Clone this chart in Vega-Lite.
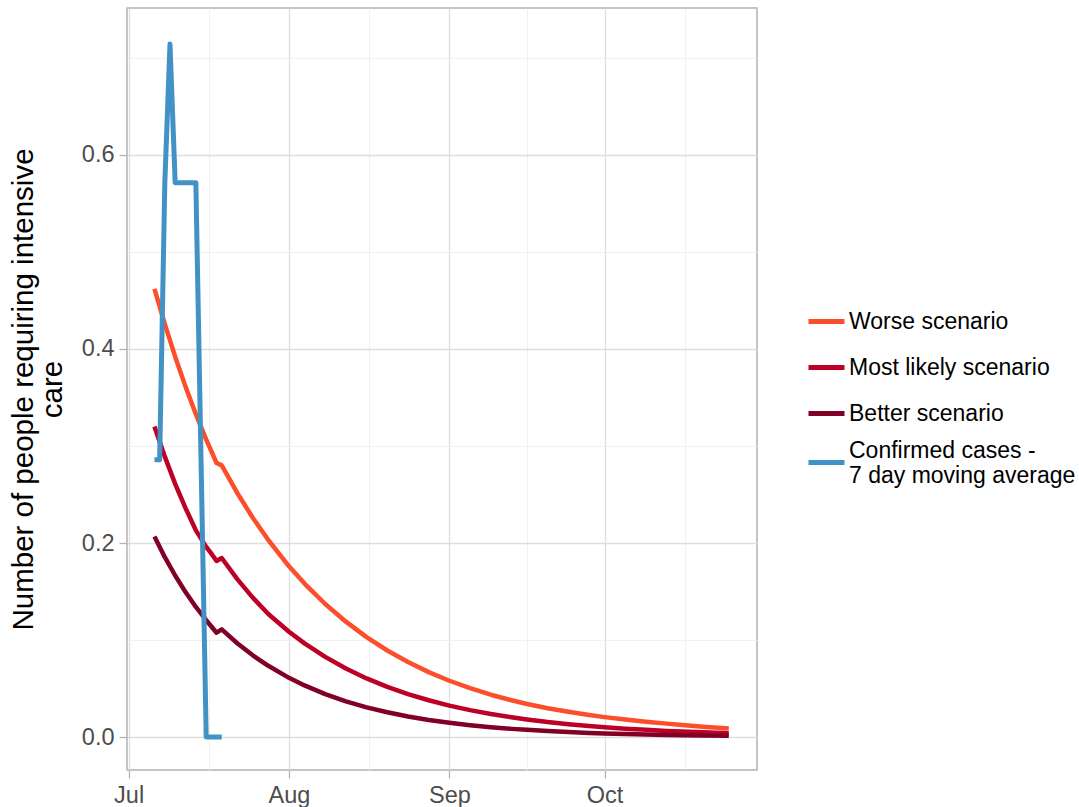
{
  "$schema": "https://vega.github.io/schema/vega-lite/v6.json",
  "width": 630,
  "height": 762,
  "autosize": {"type": "none"},
  "padding": {"left": 127, "top": 8, "right": 322, "bottom": 37},
  "background": "white",
  "config": {
    "font": "Liberation Sans",
    "view": {"stroke": "#B3B3B3", "strokeWidth": 1.5},
    "axis": {
      "domain": false,
      "labelFont": "Liberation Sans",
      "labelFontSize": 23.5,
      "labelColor": "#4D4D4D",
      "tickColor": "#B3B3B3",
      "tickSize": 8,
      "tickWidth": 1.3,
      "labelPadding": 5,
      "labelOverlap": false,
      "labelFlush": false,
      "titleFont": "Liberation Sans",
      "titleFontWeight": "normal",
      "titleColor": "black"
    },
    "legend": {
      "orient": "none",
      "legendX": 679,
      "legendY": 293,
      "labelFont": "Liberation Sans",
      "labelFontSize": 23,
      "labelColor": "black",
      "symbolType": "stroke",
      "symbolStrokeWidth": 5,
      "symbolSize": 1296,
      "labelOffset": 2,
      "rowPadding": 13,
      "labelLimit": 400
    }
  },
  "data": {
    "values": [
      {"date": "2021-07-06T00:00", "series": "Worse scenario", "value": 0.462},
      {"date": "2021-07-08T00:00", "series": "Worse scenario", "value": 0.4256},
      {"date": "2021-07-10T00:00", "series": "Worse scenario", "value": 0.3921},
      {"date": "2021-07-12T00:00", "series": "Worse scenario", "value": 0.3612},
      {"date": "2021-07-14T00:00", "series": "Worse scenario", "value": 0.3328},
      {"date": "2021-07-16T00:00", "series": "Worse scenario", "value": 0.3066},
      {"date": "2021-07-18T00:00", "series": "Worse scenario", "value": 0.2825},
      {"date": "2021-07-19T00:00", "series": "Worse scenario", "value": 0.280},
      {"date": "2021-07-22T00:00", "series": "Worse scenario", "value": 0.2516},
      {"date": "2021-07-25T00:00", "series": "Worse scenario", "value": 0.2260},
      {"date": "2021-07-28T00:00", "series": "Worse scenario", "value": 0.2031},
      {"date": "2021-08-01T00:00", "series": "Worse scenario", "value": 0.176},
      {"date": "2021-08-04T00:00", "series": "Worse scenario", "value": 0.1582},
      {"date": "2021-08-08T00:00", "series": "Worse scenario", "value": 0.1371},
      {"date": "2021-08-12T00:00", "series": "Worse scenario", "value": 0.1189},
      {"date": "2021-08-16T00:00", "series": "Worse scenario", "value": 0.103},
      {"date": "2021-08-20T00:00", "series": "Worse scenario", "value": 0.0892},
      {"date": "2021-08-24T00:00", "series": "Worse scenario", "value": 0.0773},
      {"date": "2021-08-28T00:00", "series": "Worse scenario", "value": 0.0669},
      {"date": "2021-09-01T00:00", "series": "Worse scenario", "value": 0.058},
      {"date": "2021-09-05T00:00", "series": "Worse scenario", "value": 0.0503},
      {"date": "2021-09-09T00:00", "series": "Worse scenario", "value": 0.0436},
      {"date": "2021-09-13T00:00", "series": "Worse scenario", "value": 0.0379},
      {"date": "2021-09-16T00:00", "series": "Worse scenario", "value": 0.034},
      {"date": "2021-09-20T00:00", "series": "Worse scenario", "value": 0.0297},
      {"date": "2021-09-24T00:00", "series": "Worse scenario", "value": 0.026},
      {"date": "2021-09-28T00:00", "series": "Worse scenario", "value": 0.0227},
      {"date": "2021-10-01T00:00", "series": "Worse scenario", "value": 0.0205},
      {"date": "2021-10-05T00:00", "series": "Worse scenario", "value": 0.018},
      {"date": "2021-10-09T00:00", "series": "Worse scenario", "value": 0.0158},
      {"date": "2021-10-13T00:00", "series": "Worse scenario", "value": 0.0138},
      {"date": "2021-10-16T00:00", "series": "Worse scenario", "value": 0.0125},
      {"date": "2021-10-20T00:00", "series": "Worse scenario", "value": 0.0107},
      {"date": "2021-10-25T00:00", "series": "Worse scenario", "value": 0.0088},

      {"date": "2021-07-06T00:00", "series": "Most likely scenario", "value": 0.320},
      {"date": "2021-07-08T00:00", "series": "Most likely scenario", "value": 0.289},
      {"date": "2021-07-10T00:00", "series": "Most likely scenario", "value": 0.261},
      {"date": "2021-07-12T00:00", "series": "Most likely scenario", "value": 0.236},
      {"date": "2021-07-14T00:00", "series": "Most likely scenario", "value": 0.213},
      {"date": "2021-07-16T00:00", "series": "Most likely scenario", "value": 0.196},
      {"date": "2021-07-17T00:00", "series": "Most likely scenario", "value": 0.189},
      {"date": "2021-07-18T00:00", "series": "Most likely scenario", "value": 0.1815},
      {"date": "2021-07-19T00:00", "series": "Most likely scenario", "value": 0.1845},
      {"date": "2021-07-22T00:00", "series": "Most likely scenario", "value": 0.1628},
      {"date": "2021-07-25T00:00", "series": "Most likely scenario", "value": 0.1437},
      {"date": "2021-07-28T00:00", "series": "Most likely scenario", "value": 0.1268},
      {"date": "2021-08-01T00:00", "series": "Most likely scenario", "value": 0.1085},
      {"date": "2021-08-04T00:00", "series": "Most likely scenario", "value": 0.0965},
      {"date": "2021-08-08T00:00", "series": "Most likely scenario", "value": 0.0826},
      {"date": "2021-08-12T00:00", "series": "Most likely scenario", "value": 0.0707},
      {"date": "2021-08-16T00:00", "series": "Most likely scenario", "value": 0.0604},
      {"date": "2021-08-20T00:00", "series": "Most likely scenario", "value": 0.0517},
      {"date": "2021-08-24T00:00", "series": "Most likely scenario", "value": 0.0442},
      {"date": "2021-08-28T00:00", "series": "Most likely scenario", "value": 0.0379},
      {"date": "2021-09-01T00:00", "series": "Most likely scenario", "value": 0.0324},
      {"date": "2021-09-05T00:00", "series": "Most likely scenario", "value": 0.0277},
      {"date": "2021-09-09T00:00", "series": "Most likely scenario", "value": 0.0237},
      {"date": "2021-09-13T00:00", "series": "Most likely scenario", "value": 0.0203},
      {"date": "2021-09-16T00:00", "series": "Most likely scenario", "value": 0.0181},
      {"date": "2021-09-20T00:00", "series": "Most likely scenario", "value": 0.0154},
      {"date": "2021-09-24T00:00", "series": "Most likely scenario", "value": 0.0132},
      {"date": "2021-09-28T00:00", "series": "Most likely scenario", "value": 0.0113},
      {"date": "2021-10-01T00:00", "series": "Most likely scenario", "value": 0.0101},
      {"date": "2021-10-05T00:00", "series": "Most likely scenario", "value": 0.0086},
      {"date": "2021-10-09T00:00", "series": "Most likely scenario", "value": 0.0074},
      {"date": "2021-10-13T00:00", "series": "Most likely scenario", "value": 0.0063},
      {"date": "2021-10-16T00:00", "series": "Most likely scenario", "value": 0.0056},
      {"date": "2021-10-20T00:00", "series": "Most likely scenario", "value": 0.0048},
      {"date": "2021-10-25T00:00", "series": "Most likely scenario", "value": 0.0040},

      {"date": "2021-07-06T00:00", "series": "Better scenario", "value": 0.2066},
      {"date": "2021-07-08T00:00", "series": "Better scenario", "value": 0.1854},
      {"date": "2021-07-10T00:00", "series": "Better scenario", "value": 0.1665},
      {"date": "2021-07-12T00:00", "series": "Better scenario", "value": 0.1494},
      {"date": "2021-07-14T00:00", "series": "Better scenario", "value": 0.1341},
      {"date": "2021-07-16T00:00", "series": "Better scenario", "value": 0.1204},
      {"date": "2021-07-18T00:00", "series": "Better scenario", "value": 0.1075},
      {"date": "2021-07-19T00:00", "series": "Better scenario", "value": 0.111},
      {"date": "2021-07-22T00:00", "series": "Better scenario", "value": 0.0967},
      {"date": "2021-07-25T00:00", "series": "Better scenario", "value": 0.0842},
      {"date": "2021-07-28T00:00", "series": "Better scenario", "value": 0.0734},
      {"date": "2021-08-01T00:00", "series": "Better scenario", "value": 0.061},
      {"date": "2021-08-04T00:00", "series": "Better scenario", "value": 0.0532},
      {"date": "2021-08-08T00:00", "series": "Better scenario", "value": 0.0442},
      {"date": "2021-08-12T00:00", "series": "Better scenario", "value": 0.0368},
      {"date": "2021-08-16T00:00", "series": "Better scenario", "value": 0.0306},
      {"date": "2021-08-20T00:00", "series": "Better scenario", "value": 0.0255},
      {"date": "2021-08-24T00:00", "series": "Better scenario", "value": 0.0212},
      {"date": "2021-08-28T00:00", "series": "Better scenario", "value": 0.0176},
      {"date": "2021-09-01T00:00", "series": "Better scenario", "value": 0.0147},
      {"date": "2021-09-05T00:00", "series": "Better scenario", "value": 0.0122},
      {"date": "2021-09-09T00:00", "series": "Better scenario", "value": 0.0101},
      {"date": "2021-09-13T00:00", "series": "Better scenario", "value": 0.0084},
      {"date": "2021-09-16T00:00", "series": "Better scenario", "value": 0.0074},
      {"date": "2021-09-20T00:00", "series": "Better scenario", "value": 0.0061},
      {"date": "2021-09-24T00:00", "series": "Better scenario", "value": 0.0051},
      {"date": "2021-09-28T00:00", "series": "Better scenario", "value": 0.0042},
      {"date": "2021-10-01T00:00", "series": "Better scenario", "value": 0.0037},
      {"date": "2021-10-05T00:00", "series": "Better scenario", "value": 0.0031},
      {"date": "2021-10-09T00:00", "series": "Better scenario", "value": 0.0026},
      {"date": "2021-10-13T00:00", "series": "Better scenario", "value": 0.0021},
      {"date": "2021-10-16T00:00", "series": "Better scenario", "value": 0.0019},
      {"date": "2021-10-20T00:00", "series": "Better scenario", "value": 0.0015},
      {"date": "2021-10-25T00:00", "series": "Better scenario", "value": 0.0012},

      {"date": "2021-07-06T00:00", "series": "Confirmed cases", "value": 0.2857},
      {"date": "2021-07-07T00:00", "series": "Confirmed cases", "value": 0.2857},
      {"date": "2021-07-08T00:00", "series": "Confirmed cases", "value": 0.5714},
      {"date": "2021-07-09T00:00", "series": "Confirmed cases", "value": 0.7143},
      {"date": "2021-07-10T00:00", "series": "Confirmed cases", "value": 0.5714},
      {"date": "2021-07-11T00:00", "series": "Confirmed cases", "value": 0.5714},
      {"date": "2021-07-12T00:00", "series": "Confirmed cases", "value": 0.5714},
      {"date": "2021-07-13T00:00", "series": "Confirmed cases", "value": 0.5714},
      {"date": "2021-07-14T00:00", "series": "Confirmed cases", "value": 0.5714},
      {"date": "2021-07-15T00:00", "series": "Confirmed cases", "value": 0.2857},
      {"date": "2021-07-16T00:00", "series": "Confirmed cases", "value": 0},
      {"date": "2021-07-17T00:00", "series": "Confirmed cases", "value": 0},
      {"date": "2021-07-18T00:00", "series": "Confirmed cases", "value": 0},
      {"date": "2021-07-19T00:00", "series": "Confirmed cases", "value": 0}
    ]
  },
  "encoding": {
    "x": {
      "field": "date",
      "type": "temporal",
      "scale": {
        "domain": [
          {"year": 2021, "month": "jun", "date": 30, "hours": 16, "minutes": 35},
          {"year": 2021, "month": "oct", "date": 30, "hours": 10, "minutes": 50}
        ]
      },
      "axis": {
        "title": null,
        "values": [
          {"year": 2021, "month": "jul", "date": 1},
          {"year": 2021, "month": "jul", "date": 16, "hours": 12},
          {"year": 2021, "month": "aug", "date": 1},
          {"year": 2021, "month": "aug", "date": 16, "hours": 12},
          {"year": 2021, "month": "sep", "date": 1},
          {"year": 2021, "month": "sep", "date": 16},
          {"year": 2021, "month": "oct", "date": 1},
          {"year": 2021, "month": "oct", "date": 16, "hours": 12}
        ],
        "labelExpr": "date(datum.value) == 1 ? timeFormat(datum.value, '%b') : ''",
        "gridColor": {"condition": {"test": "date(datum.value) == 1", "value": "#DEDEDE"}, "value": "#EDEDED"},
        "gridWidth": {"condition": {"test": "date(datum.value) == 1", "value": 1.3}, "value": 0.8},
        "tickOpacity": {"condition": {"test": "date(datum.value) == 1", "value": 1}, "value": 0}
      }
    },
    "y": {
      "field": "value",
      "type": "quantitative",
      "scale": {"domain": [-0.034, 0.7515], "nice": false, "zero": false},
      "axis": {
        "values": [0, 0.1, 0.2, 0.3, 0.4, 0.5, 0.6, 0.7],
        "title": ["Number of people requiring intensive", "care"],
        "titleFontSize": 29.5,
        "titleLineHeight": 29,
        "titleAngle": 270,
        "titleAlign": "center",
        "titleBaseline": "alphabetic",
        "titleX": -95,
        "titleY": 381,
        "labelExpr": "round(datum.value * 10) % 2 == 0 ? format(datum.value, '.1f') : ''",
        "gridColor": {"condition": {"test": "round(datum.value * 10) % 2 == 0", "value": "#DEDEDE"}, "value": "#EDEDED"},
        "gridWidth": {"condition": {"test": "round(datum.value * 10) % 2 == 0", "value": 1.3}, "value": 0.8},
        "tickOpacity": {"condition": {"test": "round(datum.value * 10) % 2 == 0", "value": 1}, "value": 0}
      }
    },
    "color": {
      "field": "series",
      "type": "nominal",
      "scale": {
        "domain": ["Worse scenario", "Most likely scenario", "Better scenario", "Confirmed cases"],
        "range": ["#FC4E2A", "#BD0026", "#800026", "#4292C6"]
      },
      "legend": {
        "title": null,
        "labelExpr": "datum.label == 'Confirmed cases' ? ['Confirmed cases -', '7 day moving average'] : datum.label",
        "encode": {
          "labels": {
            "update": {
              "dy": {"signal": "datum.label == 'Confirmed cases' ? -12 : 0"}
            }
          }
        }
      }
    }
  },
  "layer": [
    {
      "transform": [{"filter": "datum.series != 'Confirmed cases'"}],
      "mark": {"type": "line", "strokeWidth": 4.5, "strokeJoin": "round", "strokeCap": "butt"}
    },
    {
      "transform": [{"filter": "datum.series == 'Confirmed cases'"}],
      "mark": {"type": "line", "strokeWidth": 5, "strokeJoin": "round", "strokeCap": "butt"}
    }
  ]
}
